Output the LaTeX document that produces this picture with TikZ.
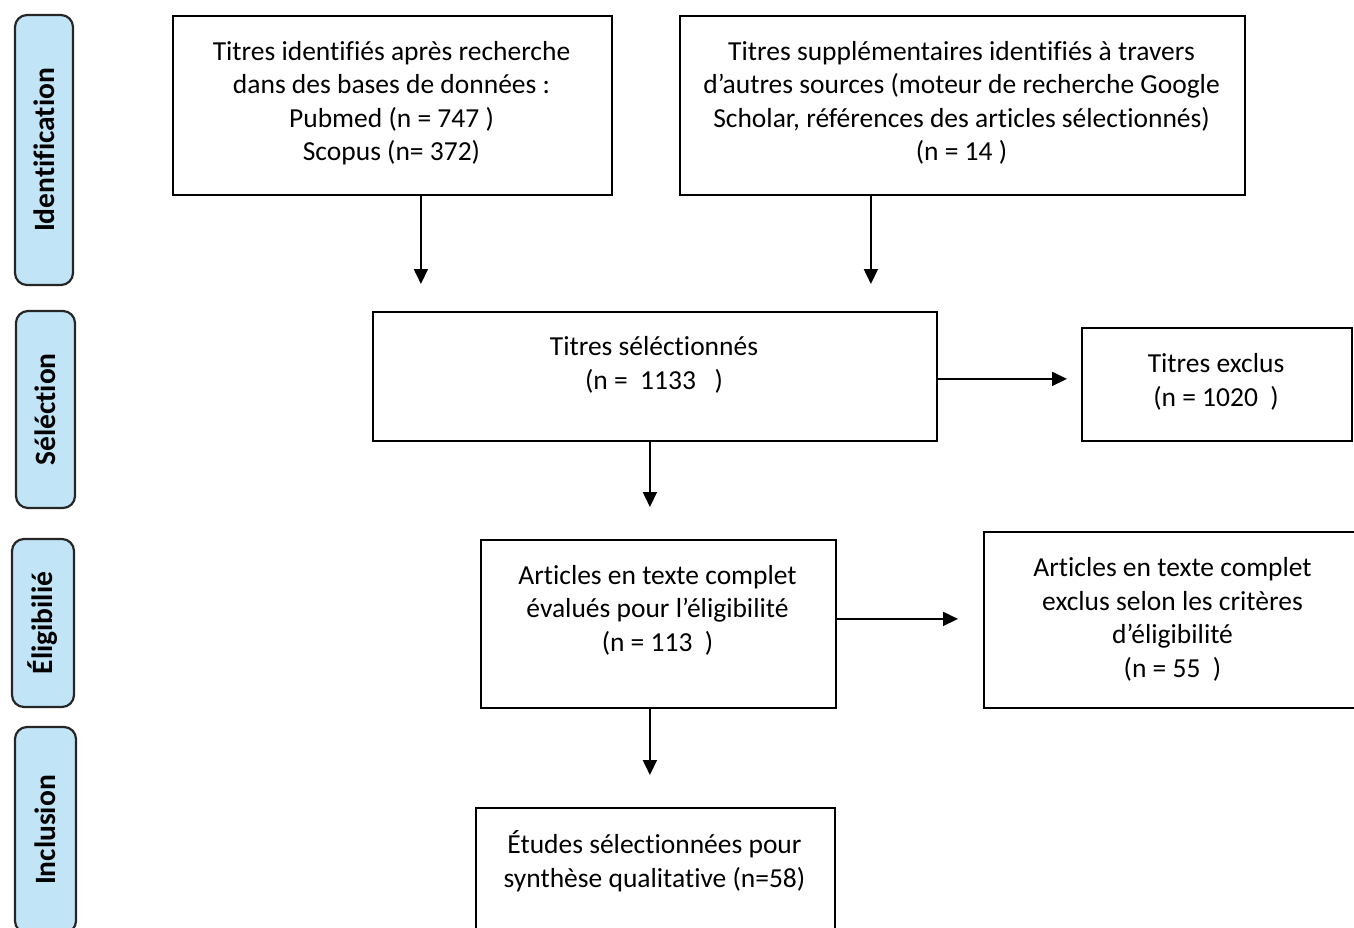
\documentclass[tikz,border=0pt]{standalone}
\usepackage{fontspec}
\setmainfont{Carlito}[Ligatures=NoCommon]
\usetikzlibrary{arrows.meta}
\definecolor{phaseblue}{RGB}{193,228,247}
\begin{document}
\begin{tikzpicture}[x=1pt,y=-1pt,
  box/.style={draw, line width=1.8pt, inner sep=0pt, anchor=north west},
  txt/.style={align=center, font=\fontsize{27.5}{33.5}\selectfont, inner sep=0pt},
  phase/.style={draw=black!85, line width=2.2pt, rounded corners=12pt, fill=phaseblue, inner sep=0pt, rotate=90, font=\fontsize{29.5}{33}\selectfont\bfseries},
  arr/.style={line width=1.8pt, -{Triangle[width=14pt,length=15pt]}}]
\useasboundingbox (0,0) rectangle (1354,928);
\clip (0,0) rectangle (1354,928);
% phase labels
\node[phase, minimum width=270pt, minimum height=58pt] (p1) at (44,150) {Identification};
\node[phase, minimum width=197pt, minimum height=59pt] (p2) at (45.5,409.5) {Séléction};
\node[phase, minimum width=168pt, minimum height=62pt] (p3) at (43,623) {Éligibilié};
\node[phase, minimum width=206pt, minimum height=61pt] (p4) at (45.5,830) {Inclusion};
% boxes
\node[box, minimum width=439pt, minimum height=179pt] (b1) at (172,15) {};
\node[box, minimum width=565pt, minimum height=179pt] (b2) at (679,15) {};
\node[box, minimum width=564pt, minimum height=129pt] (b3) at (372,311) {};
\node[box, minimum width=270pt, minimum height=113pt] (ex) at (1081,327) {};
\node[box, minimum width=355pt, minimum height=168pt] (b4) at (480,539) {};
\node[box, minimum width=390pt, minimum height=176pt] (b5) at (983,531) {};
\node[box, minimum width=359pt, minimum height=140pt] (b6) at (475,807) {};
% texts
\node[txt] (t1) at (391.5,103) {Titres identifiés après recherche\\dans des bases de données :\\Pubmed (n = 747 )\\Scopus (n= 372)};
\node[txt] (t2) at (961.5,103) {Titres supplémentaires identifiés à travers\\d’autres sources (moteur de recherche Google\\Scholar, références des articles sélectionnés)\\(n = 14 )};
\node[txt] (t3) at (654,365) {Titres séléctionnés\\(n =\ \ 1133\ \ \ )};
\node[txt] (tex) at (1216,382) {Titres exclus\\(n = 1020\ \ )};
\node[txt] (t4) at (657.5,610) {Articles en texte complet\\évalués pour l’éligibilité\\(n = 113\ \ )};
\node[txt] (t5) at (1172.5,619.5) {Articles en texte complet\\exclus selon les critères\\d’éligibilité\\(n = 55\ \ )};
\node[txt] (t6) at (654.5,861) {Études sélectionnées pour\\synthèse qualitative (n=58)};
% arrows
\draw[arr, shorten >=27pt] ([xshift=28.5pt]b1.south) -- ([xshift=28.5pt]b1.south |- b3.north);
\draw[arr, shorten >=27pt] ([xshift=-91.5pt]b2.south) -- ([xshift=-91.5pt]b2.south |- b3.north);
\draw[arr, shorten >=14pt] ([yshift=-2.5pt]b3.east) -- ([yshift=-2.5pt]b3.east -| ex.west);
\draw[arr, shorten >=32pt] ([xshift=-5pt]b3.south) -- ([xshift=-5pt]b3.south |- b4.north);
\draw[arr, shorten >=25pt] ([yshift=5pt]b4.east) -- ([yshift=5pt]b4.east -| b5.west);
\draw[arr, shorten >=32pt] ([xshift=-8.5pt]b4.south) -- ([xshift=-8.5pt]b4.south |- b6.north);
\end{tikzpicture}
\end{document}
